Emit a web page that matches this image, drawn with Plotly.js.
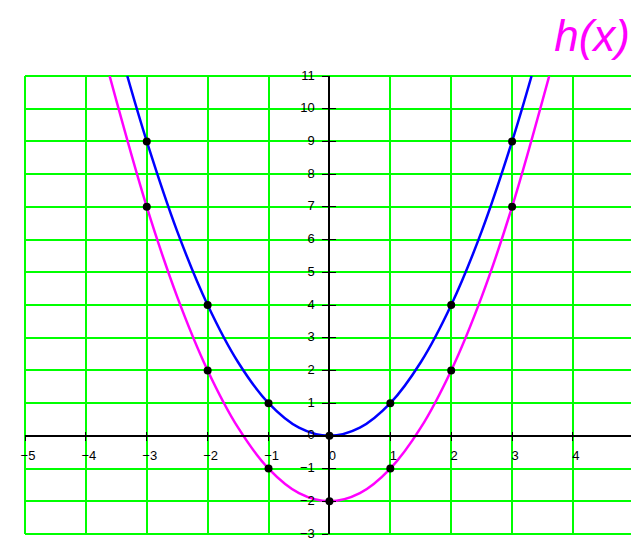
<!DOCTYPE html>
<html>
<head>
<meta charset="utf-8">
<script src="https://cdn.plot.ly/plotly-3.0.1.min.js"></script>
<style>html,body{margin:0;padding:0;background:#fff;}#chart{width:631px;height:541px;}</style>
</head>
<body>
<div id="chart"></div>
<script>
// Sample points marked with dots
const pointX = [-3, -2, -1, 0, 1, 2, 3];
const fPoints = [9, 4, 1, 0, 1, 4, 9];          // blue curve dots
const hPoints = [7, 2, -1, -2, -1, 2, 7];       // magenta curve h(x) dots

// Curves (ending at the top edge of the plot)
const fCurveX = [-3.32, -3, -2.5, -2, -1.5, -1, -0.5, 0, 0.5, 1, 1.5, 2, 2.5, 3, 3.32];
const fCurveY = [11, 9, 6.25, 4, 2.25, 1, 0.25, 0, 0.25, 1, 2.25, 4, 6.25, 9, 11];
const hCurveX = [-3.61, -3, -2.5, -2, -1.5, -1, -0.5, 0, 0.5, 1, 1.5, 2, 2.5, 3, 3.61];
const hCurveY = [11, 7, 4.25, 2, 0.25, -1, -1.75, -2, -1.75, -1, 0.25, 2, 4.25, 7, 11];

const xTicks = [-5, -4, -3, -2, -1, 0, 1, 2, 3, 4];
const xTickText = ['\u22125', '\u22124', '\u22123', '\u22122', '\u22121', '0', '1', '2', '3', '4'];
const yTicks = [-3, -2, -1, 0, 1, 2, 3, 4, 5, 6, 7, 8, 9, 10, 11];
const yTickText = ['\u22123', '\u22122', '\u22121', '0', '1', '2', '3', '4', '5', '6', '7', '8', '9', '10', '11'];

const titleText = 'h(x)';

const xRange = [-5, 4.953];
const yRange = [-3, 11];
const xPos = (0 - yRange[0]) / (yRange[1] - yRange[0]);
const yPos = (0 - xRange[0]) / (xRange[1] - xRange[0]);

const GREEN = '#00ff00';
const BLUE = '#0000ff';
const MAGENTA = '#ff00ff';
const tickFont = {family: 'Liberation Sans, Arial, sans-serif', size: 13, color: '#000'};

const traces = [
  {x: hCurveX, y: hCurveY, type: 'scatter', mode: 'lines',
   line: {color: MAGENTA, width: 2.5, shape: 'spline', smoothing: 1}, hoverinfo: 'skip'},
  {x: fCurveX, y: fCurveY, type: 'scatter', mode: 'lines',
   line: {color: BLUE, width: 2.5, shape: 'spline', smoothing: 1}, hoverinfo: 'skip'},
  {x: pointX, y: fPoints, type: 'scatter', mode: 'markers',
   marker: {color: '#000', size: 8}},
  {x: pointX, y: hPoints, type: 'scatter', mode: 'markers',
   marker: {color: '#000', size: 8}},
  // invisible trace so the overlay axes (inside tick halves) are drawn
  {x: [0], y: [0], xaxis: 'x2', yaxis: 'y2', type: 'scatter', mode: 'markers',
   marker: {opacity: 0}, hoverinfo: 'skip'}
];

// plot frame (top, bottom, left edges) in paper coordinates
const frameLine = {color: GREEN, width: 2};
const shapes = [
  {type: 'line', xref: 'paper', yref: 'paper', x0: 0, x1: 1, y0: 1, y1: 1, line: frameLine, layer: 'below'},
  {type: 'line', xref: 'paper', yref: 'paper', x0: 0, x1: 1, y0: 0, y1: 0, line: frameLine, layer: 'below'},
  {type: 'line', xref: 'paper', yref: 'paper', x0: 0, x1: 0, y0: 0, y1: 1, line: frameLine, layer: 'below'}
];

const layout = {
  width: 631, height: 541,
  margin: {l: 25, r: 0, t: 76, b: 7, pad: 0},
  paper_bgcolor: '#fff', plot_bgcolor: '#fff',
  showlegend: false,
  shapes: shapes,
  title: {text: titleText, xref: 'container', yref: 'container',
          x: 630 / 631, xanchor: 'right', y: 1 - 36 / 541, yanchor: 'middle',
          font: {family: 'Liberation Sans, Arial, sans-serif', size: 44, color: MAGENTA, style: 'italic'}},
  xaxis: {range: xRange, anchor: 'free', position: xPos,
          tickmode: 'array', tickvals: xTicks, ticktext: xTickText,
          showgrid: true, gridcolor: GREEN, gridwidth: 2, zeroline: false,
          showline: true, linecolor: '#000', linewidth: 2,
          ticks: 'outside', ticklen: 4, tickwidth: 1, tickcolor: '#000',
          ticklabelshift: 3, ticklabelstandoff: 4, ticklabeloverflow: 'allow',
          tickfont: tickFont, fixedrange: true},
  yaxis: {range: yRange, anchor: 'free', position: yPos,
          tickmode: 'array', tickvals: yTicks, ticktext: yTickText,
          showgrid: true, gridcolor: GREEN, gridwidth: 2, zeroline: false,
          showline: true, linecolor: '#000', linewidth: 2,
          ticks: 'outside', ticklen: 6, tickwidth: 1, tickcolor: '#000',
          ticklabelshift: -1, ticklabelstandoff: 5, ticklabeloverflow: 'allow',
          tickfont: tickFont, fixedrange: true},
  xaxis2: {range: xRange, overlaying: 'x', anchor: 'free', position: xPos,
           tickmode: 'array', tickvals: xTicks, showticklabels: false,
           showgrid: false, zeroline: false, showline: false,
           ticks: 'inside', ticklen: 4, tickwidth: 1, tickcolor: '#000', fixedrange: true},
  yaxis2: {range: yRange, overlaying: 'y', anchor: 'free', position: yPos,
           tickmode: 'array', tickvals: yTicks, showticklabels: false,
           showgrid: false, zeroline: false, showline: false,
           ticks: 'inside', ticklen: 6, tickwidth: 1, tickcolor: '#000', fixedrange: true}
};

Plotly.newPlot('chart', traces, layout, {displayModeBar: false, staticPlot: true});
</script>
</body>
</html>
